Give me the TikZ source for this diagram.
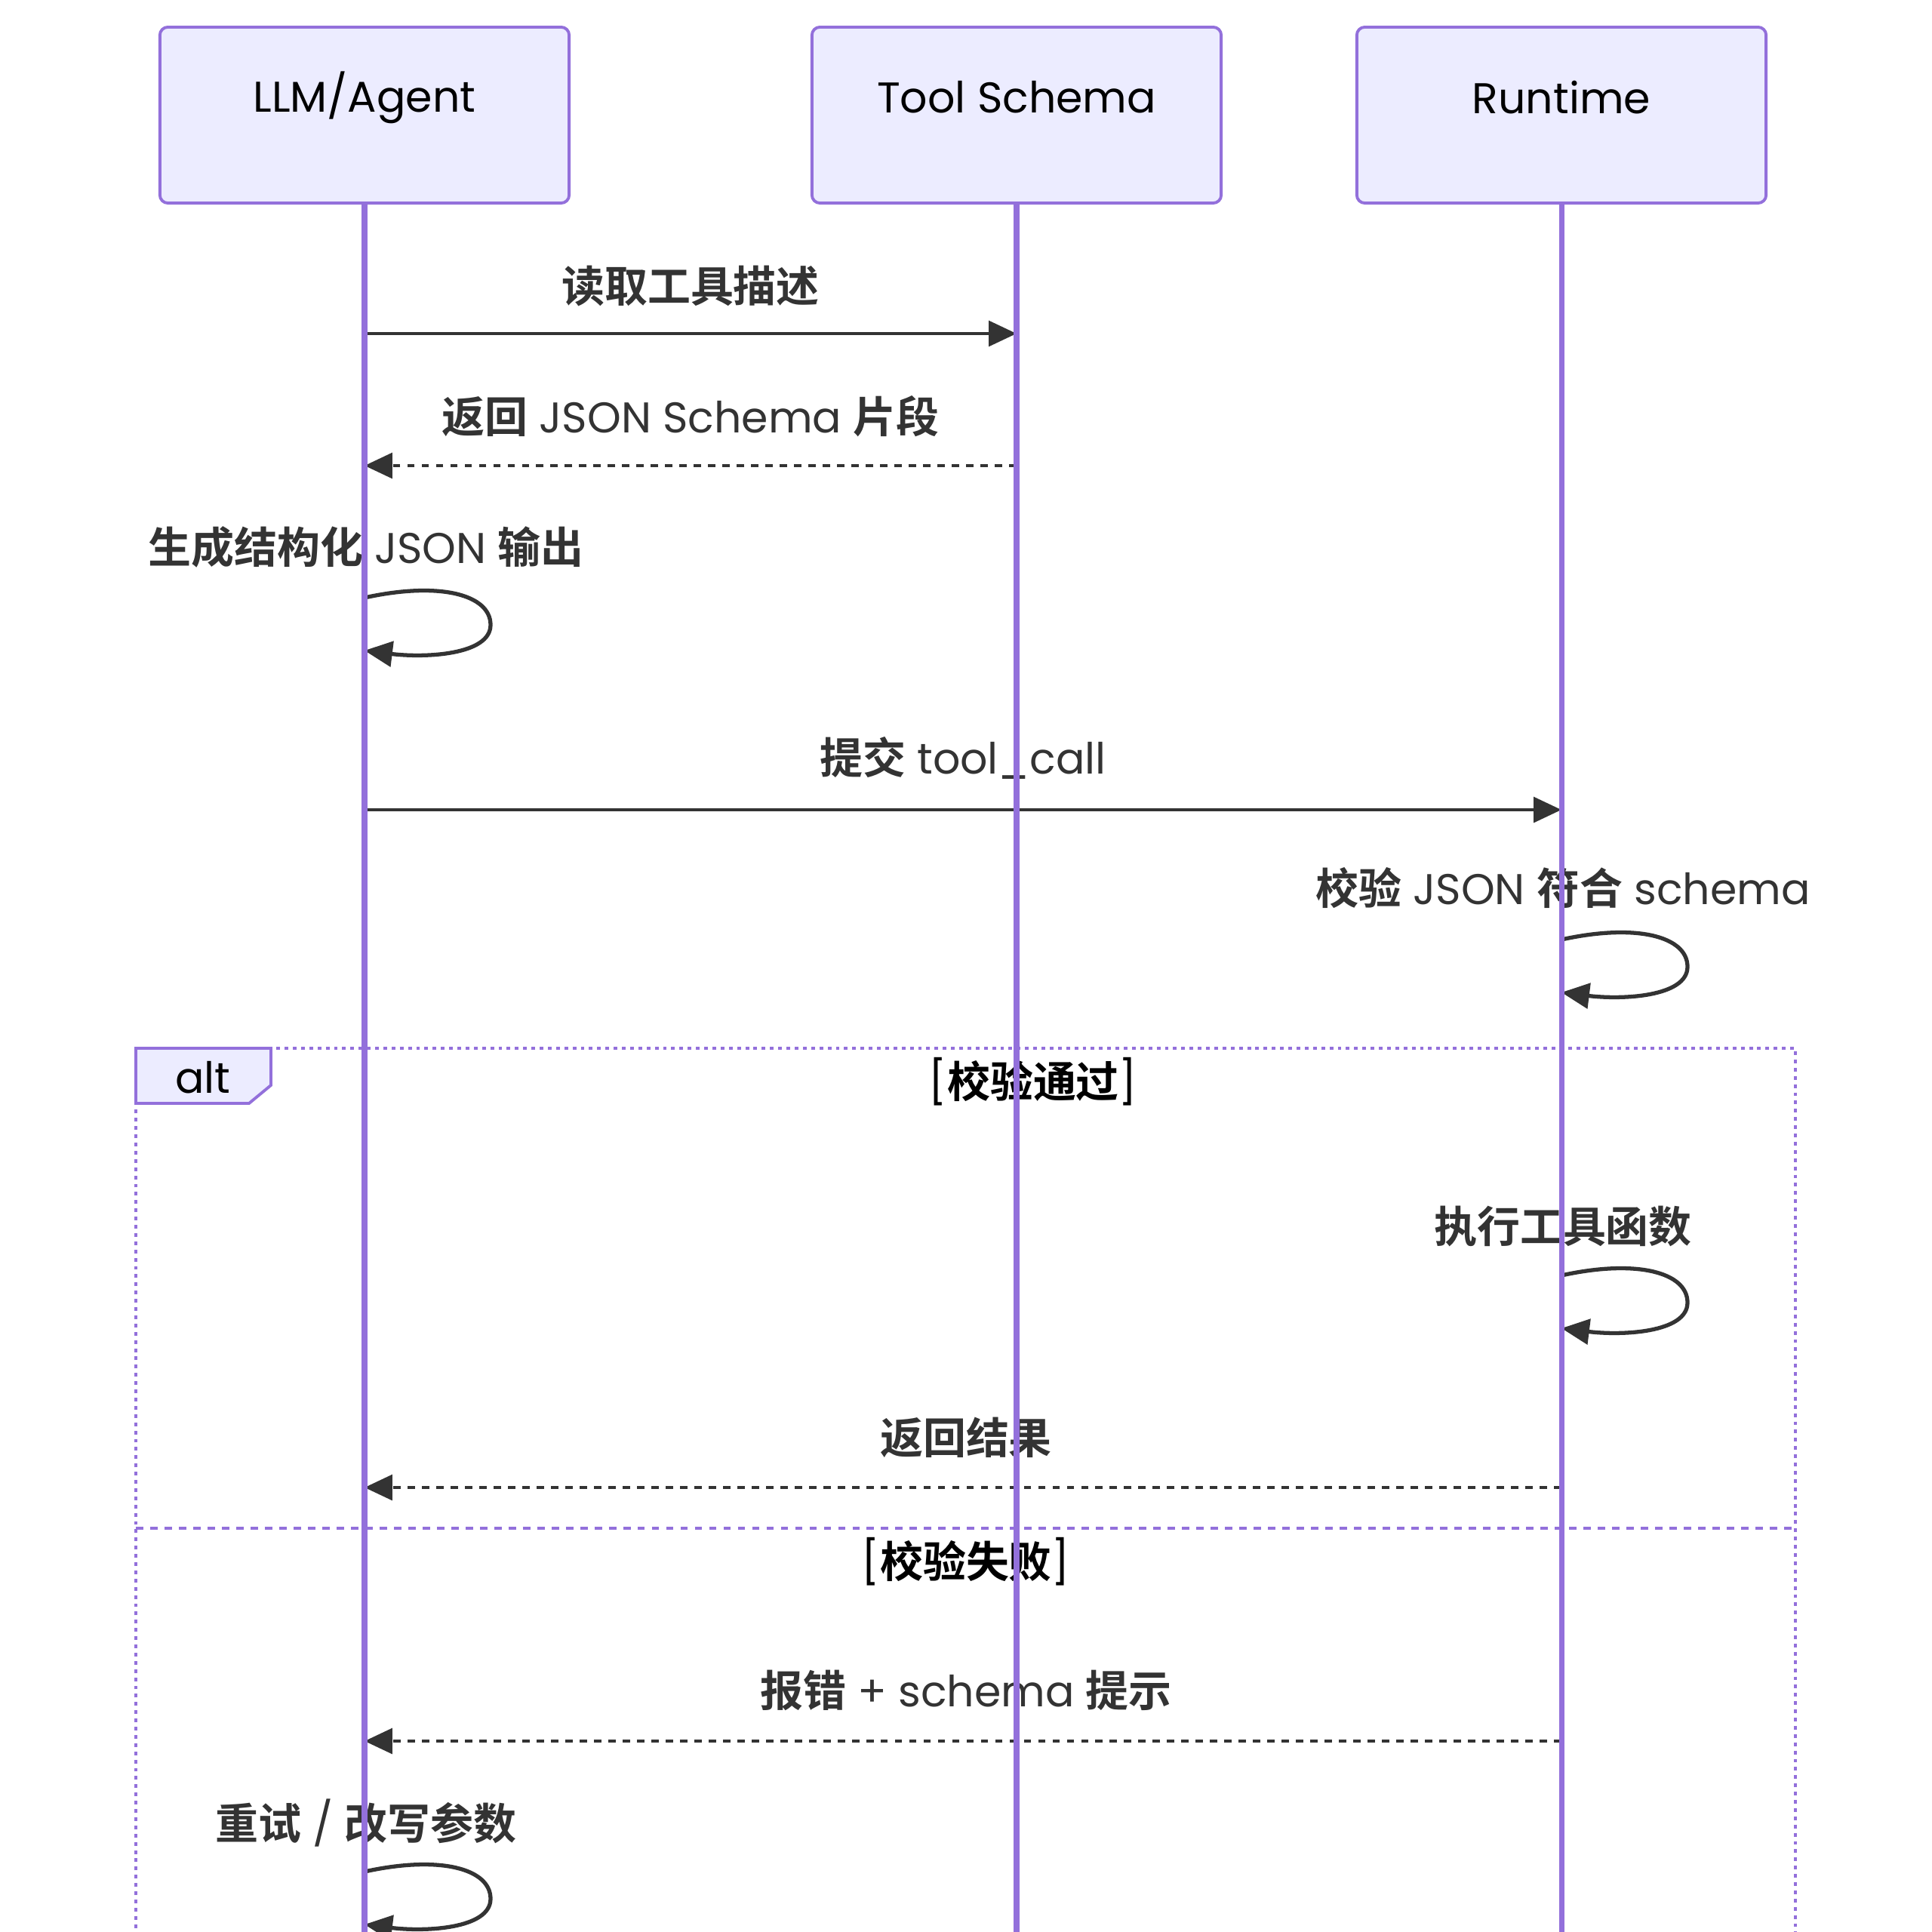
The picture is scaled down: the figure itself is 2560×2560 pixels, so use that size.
\documentclass[tikz,border=0pt]{standalone}
\usepackage{fontspec}
\setmainfont{Poppins}
\newfontfamily\cjk{Noto Sans CJK SC}[BoldFont={Noto Sans CJK SC Bold}]
\newcommand\zh[1]{{\cjk\bfseries #1}}
\usetikzlibrary{arrows.meta, positioning}

\definecolor{lifecol}{HTML}{9370DB}
\definecolor{actorfill}{HTML}{ECECFF}
\definecolor{inkcol}{HTML}{333333}

\begin{document}
\begin{tikzpicture}[x=0.01cm, y=-0.01cm, >={Triangle[length=10.5pt, width=9.5pt]},
  every node/.style={font=\fontsize{16.2}{20}\selectfont, text=inkcol},
  actor/.style={draw=lifecol, fill=actorfill, line width=1.1pt, rounded corners=3pt, minimum width=5.42cm, minimum height=2.33cm},
  actorlabel/.style={text=black},
  msg/.style={->, draw=inkcol, line width=1.4pt},
  reply/.style={msg, dash pattern=on 2.8pt off 2.6pt},
  selfloop/.style={->, draw=inkcol, line width=1.5pt},
  life/.style={draw=lifecol, line width=2pt},
  frame/.style={draw=lifecol, line width=1.4pt, dash pattern=on 1.4pt off 1.7pt}]
  \useasboundingbox (0,0) rectangle (2560,2560);

  % participants
  \node[actor] (llm) at (483,152.5) {};
  \node[actor] (schema) at (1347,152.5) {};
  \node[actor] (runtime) at (2069,152.5) {};
  \node[actorlabel] (llmtxt) at (483,129) {LLM/Agent};
  \node[actorlabel] (schematxt) at (1347,129) {Tool Schema};
  \node[actorlabel] (runtimetxt) at (2069,129) {Runtime};
  \coordinate (bottom) at (0,2560);

  % alt frame
  \draw[frame] (180,2620) -- (180,1389) -- (2379,1389) -- (2379,2620);
  \draw[frame, dash pattern=on 2.8pt off 2.6pt] (180,2025) -- (2379,2025);
  \draw[draw=lifecol, fill=actorfill, line width=1.1pt] (180,1389) -- (359,1389) -- (359,1438) -- (330,1462) -- (180,1462) -- cycle;
  \node[text=black] (alttxt) at (269,1428) {alt};
  \node[text=black] (okguard) at (1369,1433) {[\zh{校验通过}]};
  \node[text=black] (failguard) at (1280,2069) {[\zh{校验失败}]};

  % message end points
  \coordinate (m1a) at (483,442);  \coordinate (m1b) at (1347,442);
  \coordinate (m2a) at (1347,617); \coordinate (m2b) at (483,617);
  \coordinate (m3a) at (483,1073); \coordinate (m3b) at (2069,1073);
  \coordinate (m4a) at (2069,1971); \coordinate (m4b) at (483,1971);
  \coordinate (m5a) at (2069,2307); \coordinate (m5b) at (483,2307);

  \node (m1txt) at (915,379) {\zh{读取工具描述}};
  \draw[msg] (m1a) -- (m1b);
  \node (m2txt) at (915,552) {\zh{返回} JSON Schema \zh{片段}};
  \draw[reply] (m2a) -- (m2b);

  \node (s1txt) at (485,725) {\zh{生成结构化} JSON \zh{输出}};
  \coordinate (s1a) at (483,792); \coordinate (s1b) at (483,862);
  \draw[selfloop] (s1a) .. controls +(100,-22) and +(0,-40) .. ++(167,36) .. controls +(0,40) and +(80,10) .. (s1b);

  \node (m3txt) at (1276,1004) {\zh{提交} tool\_call};
  \draw[msg] (m3a) -- (m3b);

  \node (s2txt) at (2071,1177) {\zh{校验} JSON \zh{符合} schema};
  \coordinate (s2a) at (2069,1245); \coordinate (s2b) at (2069,1315);
  \draw[selfloop] (s2a) .. controls +(100,-22) and +(0,-40) .. ++(167,36) .. controls +(0,40) and +(80,10) .. (s2b);

  \node (s3txt) at (2071,1625) {\zh{执行工具函数}};
  \coordinate (s3a) at (2069,1690); \coordinate (s3b) at (2069,1760);
  \draw[selfloop] (s3a) .. controls +(100,-22) and +(0,-40) .. ++(167,36) .. controls +(0,40) and +(80,10) .. (s3b);

  \node (m4txt) at (1280,1905) {\zh{返回结果}};
  \draw[reply] (m4a) -- (m4b);
  \node (m5txt) at (1280,2240) {\zh{报错} + schema \zh{提示}};
  \draw[reply] (m5a) -- (m5b);

  \node (s4txt) at (485,2415) {\zh{重试} / \zh{改写参数}};
  \coordinate (s4a) at (483,2480); \coordinate (s4b) at (483,2550);
  \draw[selfloop] (s4a) .. controls +(100,-22) and +(0,-40) .. ++(167,36) .. controls +(0,40) and +(80,10) .. (s4b);

  % lifelines
  \foreach \p in {llm, schema, runtime}
    \draw[life] (\p.south) -- (\p.south |- bottom);
\end{tikzpicture}
\end{document}
